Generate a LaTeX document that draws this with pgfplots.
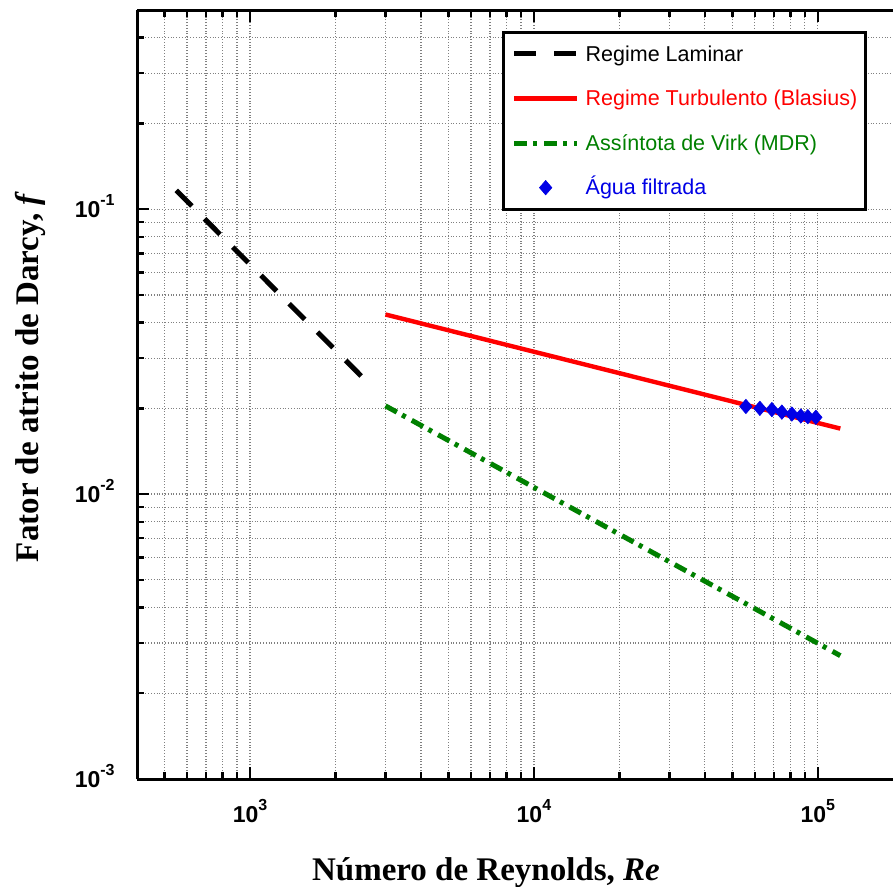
\documentclass[border=0pt]{standalone}
\usepackage{pgfplots}
\pgfplotsset{compat=1.18}
\usepackage{fontspec}
\setmainfont{Liberation Sans}
\newfontfamily\timesfont{Liberation Serif}

\definecolor{mdrgreen}{RGB}{0,128,0}
\definecolor{datablue}{RGB}{0,0,230}

\begin{document}
\begin{tikzpicture}
\begin{axis}[
  width=378pt, height=384.5pt, scale only axis,
  xmode=log, ymode=log,
  xmin=400, xmax=184000, ymin=1e-3, ymax=0.5,
  axis x line=box, axis y line=left,
  axis line style={line width=1.5pt, -},
  every tick/.style={black, line width=1.2pt},
  major tick length=6pt, minor tick length=3.5pt,
  tick align=inside,
  grid=both,
  major grid style={densely dotted, gray, line width=0.6pt},
  minor grid style={densely dotted, gray, line width=0.6pt},
  /pgf/number format/assume math mode=true,
  log number format basis/.code 2 args={10\raisebox{6pt}{\fontsize{8pt}{8pt}\selectfont\pgfmathprintnumber{#2}}},
  ticklabel style={font=\bfseries\fontsize{11.5pt}{13pt}\selectfont},
  xticklabel style={anchor=north, inner sep=0pt, yshift=-10pt},
  yticklabel style={anchor=base east, inner sep=0pt, xshift=-11pt, yshift=-4pt},
  label style={font=\timesfont\bfseries\fontsize{16.5pt}{18pt}\selectfont},
  xlabel={Número de Reynolds, \textit{Re}},
  ylabel={Fator de atrito de Darcy, \textit{f}},
  xlabel style={at={(axis description cs:0.4616,-0.13134)}, anchor=base},
  ylabel style={at={(axis description cs:-0.13095,0.523)}, anchor=base},
  legend style={at={(0.483,0.973)}, anchor=north west, draw=black, line width=1.5pt, fill=white,
     font=\fontsize{10.75pt}{12pt}\selectfont, inner xsep=4pt, inner ysep=6.2pt,
     row sep=13.1pt, column sep=3pt,
     nodes={inner sep=0pt, text height=8.2pt, text depth=1pt}},
  legend cell align=left,
  legend image code/.code={\draw[mark repeat=2, mark phase=2, #1] plot coordinates {(0pt,0pt) (15.75pt,0pt) (31.5pt,0pt)};},
]
% laminar regime, f = 64/Re
\addplot[black, line width=2.5pt, dash pattern=on 11pt off 9pt] coordinates {(550,0.11636) (2500,0.0256)};
\addlegendentry{Regime Laminar}
% turbulent regime (Blasius)
\addplot[red, line width=2.2pt] coordinates {(3000,0.04270) (120000,0.01698)};
\addlegendentry{\textcolor{red}{Regime Turbulento (Blasius)}}
% maximum drag reduction asymptote
\addplot[mdrgreen, line width=2.5pt, dash pattern=on 6.5pt off 3pt on 2pt off 3.5pt] coordinates {
  (3000,0.0204) (5000,0.01543) (10000,0.01056) (20000,0.00723) (50000,0.00438) (120000,0.00271)};
\addlegendentry{\textcolor{mdrgreen}{Assíntota de Virk (MDR)}}
% measurements
\addplot[only marks, mark=diamond*, mark size=3.6pt, datablue, mark options={line width=0.3pt, xscale=1.15}] coordinates {
  (55800,0.0203) (62500,0.0200) (68900,0.0198) (74700,0.0194) (81000,0.0191) (87100,0.0188) (92200,0.0187) (98400,0.0186)};
\addlegendentry{\textcolor{datablue}{Água filtrada}}
\coordinate (bl) at (rel axis cs:0,0);
\coordinate (tr) at (rel axis cs:1,1);
\end{axis}
\pgfresetboundingbox
\path[use as bounding box] ([shift={(-68.5pt,-53.5pt)}]bl) rectangle ([shift={(0pt,5pt)}]tr);
\end{tikzpicture}
\end{document}
